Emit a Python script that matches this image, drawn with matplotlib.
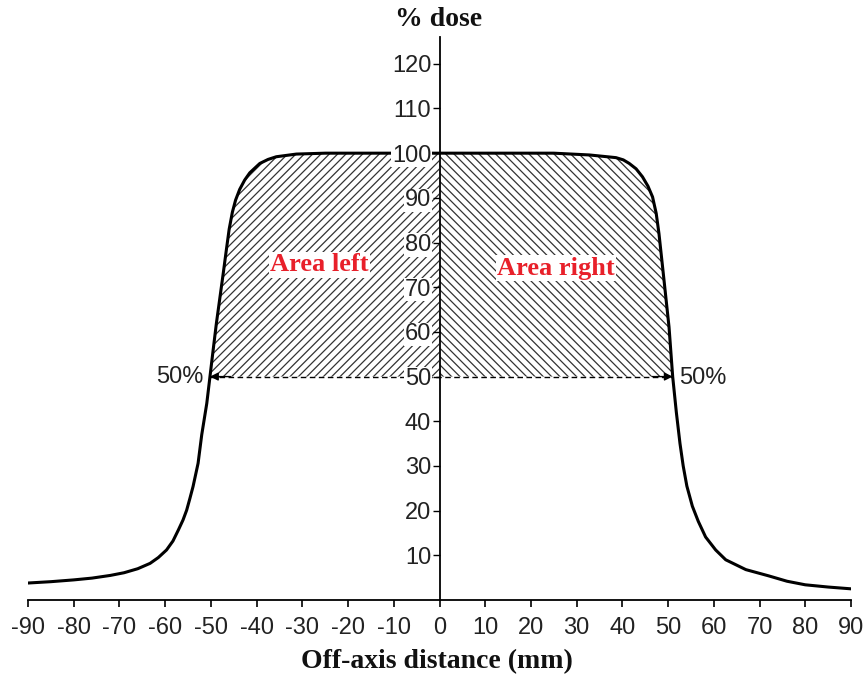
import numpy as np
import matplotlib
matplotlib.use("Agg")
import matplotlib.pyplot as plt

# Dose profile (off-axis distance in mm, % dose)
off_axis_mm = [-90, -85, -80, -76, -72, -69, -66, -63.3, -61.5, -59.7,
               -58.3, -57.1, -56.1, -55.3, -54.6, -53.9, -52.8, -52.0, -50.9,
               -50.2, -49.5, -48.8, -47.3, -46.6, -46.0, -45.3, -44.6, -43.7,
               -42.6, -41.5, -39.3, -37.5, -35.7, -31.3, -25, 0,
               25, 32.8, 38.6, 40.2, 41.5, 43.0, 44.4, 45.6, 46.6, 47.4,
               48.0, 49.1, 50.2, 51.0, 51.8, 52.6, 53.3, 54.1, 55.3, 56.6,
               58.2, 60.4, 62.6, 67.0, 72.0, 76, 80, 85, 90]
dose_pct = [3.8, 4.1, 4.5, 4.9, 5.5, 6.1, 7.0, 8.2, 9.5, 11.2,
            13.2, 15.7, 17.9, 20.1, 22.7, 25.4, 30.6, 37.0, 44.0,
            50.0, 56.0, 61.9, 73.1, 78.5, 83.0, 86.8, 89.5, 91.9,
            94.0, 95.6, 97.7, 98.6, 99.2, 99.8, 100, 100,
            100, 99.6, 99.0, 98.5, 97.7, 96.5, 94.7, 92.6, 90.2, 86.5,
            82.0, 71.6, 61.1, 50.0, 42.0, 35.0, 30.0, 25.5, 21.0, 17.6,
            14.1, 11.2, 9.0, 6.8, 5.4, 4.2, 3.4, 2.9, 2.5]

x_ticks = list(range(-90, 91, 10))
y_ticks = list(range(10, 121, 10))
half_dose = 50
left_edge = -50.2
right_edge = 51.0

SANS = ["Liberation Sans", "DejaVu Sans"]
SERIF = ["Liberation Serif", "DejaVu Serif"]
RED = "#e8202a"

plt.rcParams["axes.unicode_minus"] = False
plt.rcParams["hatch.linewidth"] = 0.9

fig = plt.figure(figsize=(8.67, 6.81), dpi=100, facecolor="white")
ax = fig.add_axes([28 / 867, 1 - 600 / 681, 823 / 867, 563 / 681])

x = np.array(off_axis_mm)
y = np.array(dose_pct)

# Hatched areas between the 50% level and the profile
left = (x >= left_edge) & (x <= 0)
right = (x >= 0) & (x <= right_edge)
ax.fill_between(x[left], half_dose, y[left], facecolor="none",
                edgecolor="#333333", linewidth=0, hatch="////")
ax.fill_between(x[right], half_dose, y[right], facecolor="none",
                edgecolor="#333333", linewidth=0, hatch="\\\\\\\\")

ax.plot(x, y, color="black", linewidth=2.2, solid_joinstyle="round")

# 50% width line with arrows at both ends
ax.plot([left_edge, right_edge], [half_dose, half_dose], color="black",
        linewidth=1.0, linestyle=(0, (4, 2.5)))
for tip, tail in [(left_edge, left_edge + 4.5), (right_edge, right_edge - 4.5)]:
    ax.annotate("", xy=(tip, half_dose), xytext=(tail, half_dose),
                arrowprops=dict(arrowstyle="-|>", color="black", lw=1.0,
                                mutation_scale=12, shrinkA=0, shrinkB=0))

ax.text(left_edge - 1.5, half_dose, "50%", ha="right", va="center",
        fontsize=17, family=SANS, color="#222222")
ax.text(right_edge + 1.5, half_dose - 0.3, "50%", ha="left", va="center",
        fontsize=17, family=SANS, color="#222222")

label_box = dict(facecolor="white", edgecolor="none", pad=1.0)
ax.text(-26.2, 75, "Area left", ha="center", va="center", fontsize=19,
        fontweight="bold", family=SERIF, color=RED, bbox=label_box)
ax.text(25.5, 74.3, "Area right", ha="center", va="center", fontsize=19,
        fontweight="bold", family=SERIF, color=RED, bbox=label_box)

# Axes: y axis through the origin, x axis along the bottom
ax.set_xlim(-90, 90)
ax.set_ylim(0, 126)
ax.spines["top"].set_visible(False)
ax.spines["right"].set_visible(False)
ax.spines["left"].set_position(("data", 0))
for side in ["left", "bottom"]:
    ax.spines[side].set_linewidth(1.3)
ax.set_axisbelow(False)

ax.set_xticks(x_ticks)
ax.set_xticklabels([str(v) for v in x_ticks])
ax.set_yticks(y_ticks)
ax.set_yticklabels([str(v) for v in y_ticks])
ax.tick_params(axis="x", direction="out", length=5, width=1.2, pad=7,
               labelsize=17, labelcolor="#222222")
ax.tick_params(axis="y", direction="out", length=5, width=1.0, pad=1,
               labelsize=17, labelcolor="#222222")
for label in ax.get_xticklabels() + ax.get_yticklabels():
    label.set_family(SANS)
for label in ax.get_yticklabels():
    label.set_bbox(dict(facecolor="white", edgecolor="none", pad=0.5))

fig.text(439 / 867, 1 - 20 / 681, "% dose", ha="center", va="center",
         fontsize=20, fontweight="bold", family=SERIF, color="#111111")
fig.text(437 / 867, 1 - 662 / 681, "Off-axis distance (mm)", ha="center",
         va="center", fontsize=20, fontweight="bold", family=SERIF,
         color="#111111")

fig.savefig("out.png", dpi=100, facecolor="white")
